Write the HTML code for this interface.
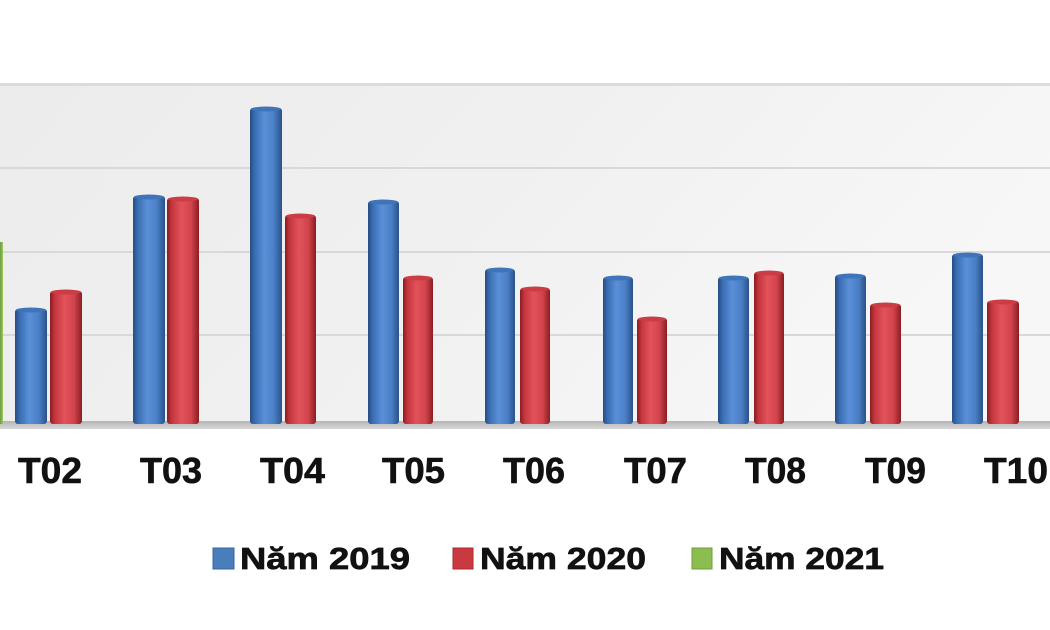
<!DOCTYPE html>
<html><head><meta charset="utf-8"><style>
html,body{margin:0;padding:0;background:#fff;}
svg{display:block;}
</style></head><body>
<svg width="1050" height="630" viewBox="0 0 1050 630" xmlns="http://www.w3.org/2000/svg">
<defs>
<linearGradient id="bg" x1="0" y1="0" x2="1" y2="0.3">
<stop offset="0" stop-color="#ececec"/><stop offset="0.5" stop-color="#f0f0f0"/><stop offset="1" stop-color="#f7f7f7"/>
</linearGradient>
<linearGradient id="fl" x1="0" y1="0" x2="0" y2="1">
<stop offset="0" stop-color="#b4b4b4"/><stop offset="1" stop-color="#d8d8d8"/>
</linearGradient>
<linearGradient id="gb" x1="0" y1="0" x2="1" y2="0">
<stop offset="0" stop-color="#264d82"/><stop offset="0.15" stop-color="#3a6db2"/><stop offset="0.45" stop-color="#5a90d8"/><stop offset="0.75" stop-color="#4a7fc6"/><stop offset="1" stop-color="#2a5189"/>
</linearGradient>
<linearGradient id="gr" x1="0" y1="0" x2="1" y2="0">
<stop offset="0" stop-color="#8a1c22"/><stop offset="0.15" stop-color="#c4363e"/><stop offset="0.45" stop-color="#e2525a"/><stop offset="0.75" stop-color="#d2444c"/><stop offset="1" stop-color="#8c1d23"/>
</linearGradient>
<linearGradient id="gg" x1="0" y1="0" x2="1" y2="0">
<stop offset="0" stop-color="#6f9a40"/><stop offset="1" stop-color="#9cc764"/>
</linearGradient>
</defs>
<rect x="0" y="0" width="1050" height="630" fill="#fff"/>
<rect x="0" y="85" width="1050" height="338" fill="url(#bg)"/>
<rect x="0" y="83" width="1050" height="3" fill="#dcdcdc"/>
<rect x="0" y="167" width="1050" height="2" fill="#d8d8d8"/>
<rect x="0" y="251" width="1050" height="2" fill="#d8d8d8"/>
<rect x="0" y="334" width="1050" height="2" fill="#d8d8d8"/>
<rect x="0" y="421" width="1050" height="8" fill="url(#fl)"/>
<rect x="0" y="242" width="3" height="182" fill="url(#gg)"/>
<g>
<g fill="url(#gb)">
<rect x="15" y="309" width="32" height="115" rx="3"/>
<rect x="133" y="196" width="32" height="228" rx="3"/>
<rect x="250" y="108" width="32" height="316" rx="3"/>
<rect x="368" y="201" width="31" height="223" rx="3"/>
<rect x="485" y="269" width="30" height="155" rx="3"/>
<rect x="603" y="277" width="30" height="147" rx="3"/>
<rect x="718" y="277" width="31" height="147" rx="3"/>
<rect x="835" y="275" width="31" height="149" rx="3"/>
<rect x="952" y="254" width="31" height="170" rx="3"/>
</g>
<g fill="#3f73ba">
<ellipse cx="31" cy="310" rx="15" ry="2.5"/>
<ellipse cx="149" cy="197" rx="15" ry="2.5"/>
<ellipse cx="266" cy="109" rx="15" ry="2.5"/>
<ellipse cx="383.5" cy="202" rx="14.5" ry="2.5"/>
<ellipse cx="500" cy="270" rx="14" ry="2.5"/>
<ellipse cx="618" cy="278" rx="14" ry="2.5"/>
<ellipse cx="733.5" cy="278" rx="14.5" ry="2.5"/>
<ellipse cx="850.5" cy="276" rx="14.5" ry="2.5"/>
<ellipse cx="967.5" cy="255" rx="14.5" ry="2.5"/>
</g>
<g fill="url(#gr)">
<rect x="50" y="291" width="32" height="133" rx="3"/>
<rect x="167" y="198" width="32" height="226" rx="3"/>
<rect x="285" y="215" width="31" height="209" rx="3"/>
<rect x="403" y="277" width="30" height="147" rx="3"/>
<rect x="520" y="288" width="30" height="136" rx="3"/>
<rect x="637" y="318" width="30" height="106" rx="3"/>
<rect x="754" y="272" width="30" height="152" rx="3"/>
<rect x="870" y="304" width="31" height="120" rx="3"/>
<rect x="987" y="301" width="32" height="123" rx="3"/>
</g>
<g fill="#cc3c44">
<ellipse cx="66" cy="292" rx="15" ry="2.5"/>
<ellipse cx="183" cy="199" rx="15" ry="2.5"/>
<ellipse cx="300.5" cy="216" rx="14.5" ry="2.5"/>
<ellipse cx="418" cy="278" rx="14" ry="2.5"/>
<ellipse cx="535" cy="289" rx="14" ry="2.5"/>
<ellipse cx="652" cy="319" rx="14" ry="2.5"/>
<ellipse cx="769" cy="273" rx="14" ry="2.5"/>
<ellipse cx="885.5" cy="305" rx="14.5" ry="2.5"/>
<ellipse cx="1003" cy="302" rx="15" ry="2.5"/>
</g>
</g>
<g font-family="Liberation Sans, Arial, sans-serif" font-weight="bold" font-size="36" fill="#111" stroke="#111" stroke-width="0.6">
<text x="18" y="483" textLength="64" lengthAdjust="spacingAndGlyphs">T02</text>
<text x="140" y="483" textLength="62" lengthAdjust="spacingAndGlyphs">T03</text>
<text x="260" y="483" textLength="65" lengthAdjust="spacingAndGlyphs">T04</text>
<text x="382" y="483" textLength="63" lengthAdjust="spacingAndGlyphs">T05</text>
<text x="503" y="483" textLength="62" lengthAdjust="spacingAndGlyphs">T06</text>
<text x="624" y="483" textLength="63" lengthAdjust="spacingAndGlyphs">T07</text>
<text x="745" y="483" textLength="61" lengthAdjust="spacingAndGlyphs">T08</text>
<text x="865" y="483" textLength="61" lengthAdjust="spacingAndGlyphs">T09</text>
<text x="984" y="483" textLength="64" lengthAdjust="spacingAndGlyphs">T10</text>
</g>
<g>
<rect x="213" y="548" width="21" height="21" fill="#4a7ebb" stroke="#3a679e" stroke-width="1"/>
<rect x="453" y="548" width="20" height="21" fill="#c9393f" stroke="#a72c32" stroke-width="1"/>
<rect x="692" y="548" width="20" height="21" fill="#8bbd50" stroke="#719d3e" stroke-width="1"/>
</g>
<g font-family="Liberation Sans, Arial, sans-serif" font-weight="bold" font-size="31" fill="#111" stroke="#111" stroke-width="0.7">
<text x="240" y="569" textLength="170" lengthAdjust="spacingAndGlyphs">Năm 2019</text>
<text x="480" y="569" textLength="166" lengthAdjust="spacingAndGlyphs">Năm 2020</text>
<text x="719" y="569" textLength="165" lengthAdjust="spacingAndGlyphs">Năm 2021</text>
</g>
</svg>
</body></html>
